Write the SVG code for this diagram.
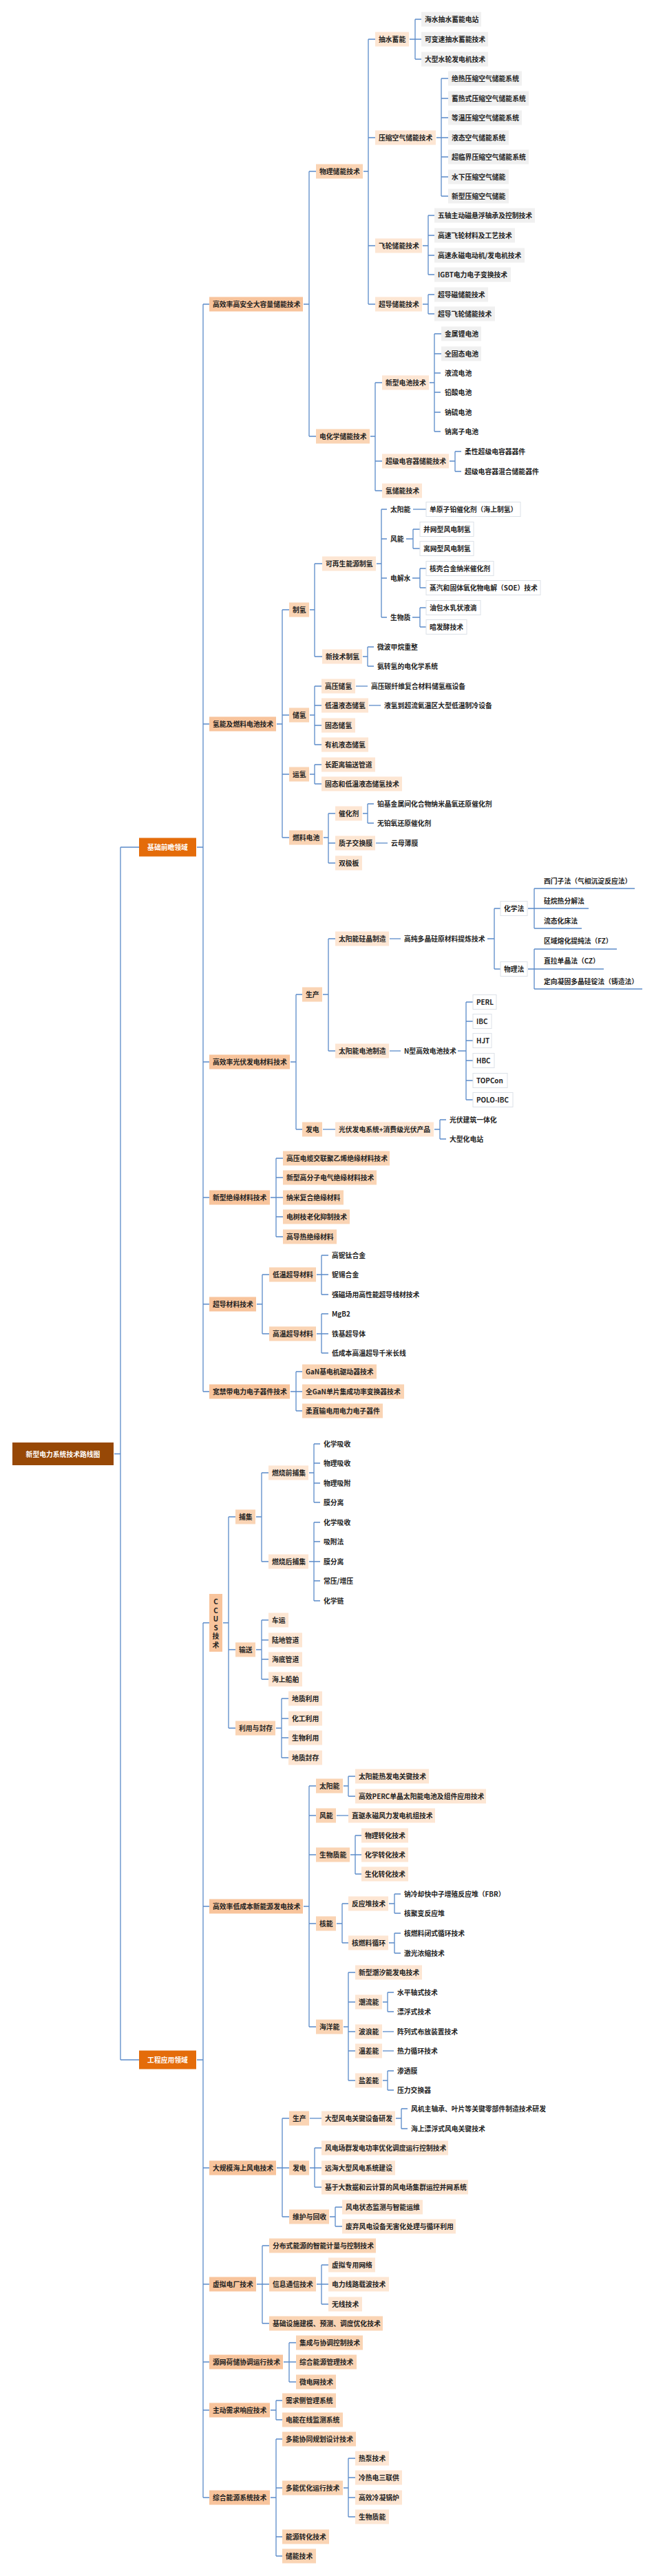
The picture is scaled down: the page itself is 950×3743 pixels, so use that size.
<svg xmlns="http://www.w3.org/2000/svg" width="950" height="3743" viewBox="0 0 950 3743">
<style>
.c path{fill:none;stroke:#5B8BC9;stroke-width:1.3}
text{font-family:"Noto Sans CJK SC","Noto Sans",sans-serif;font-size:9.8px;font-weight:700;fill:#222;dominant-baseline:central}
.r rect{fill:#974806}.r text,.a text{fill:#fff}
.a rect{fill:#E46C0A}
.l2 rect{fill:#F8C49C}
.l3 rect{fill:#FAD4B4}
.l4 rect{fill:#FDE6D3}
.g rect{fill:#F0F0F0}
.b rect{fill:#fff;stroke:#DCE1E8}
.u line{stroke:#5B8BC9;stroke-width:1.5}
</style>
<rect width="950" height="3743" fill="#fff"/>
<g class="c" id="connectors">
<path d="M166 2112.5H175M175 1231V2993M175 1231H202M175 2993H202"/>
<path d="M286 1231H295M295 442V2022M295 442H304M295 1052H304M295 1543H304M295 1740H304M295 1895H304M295 2022H304"/>
<path d="M286 2993H295M295 2358V3629M295 2358H304M295 2770H304M295 3150H304M295 3319H304M295 3432H304M295 3502H304M295 3629H304"/>
<path d="M441 442H449M449 249V634M449 249H459M449 634H459"/>
<path d="M528 249H535M535 57V442M535 57H545M535 200H545M535 357H545M535 442H545"/>
<path d="M595 57H603M603 28V86M603 28H612M603 57H612M603 86H612"/>
<path d="M634 200H641M641 114V285M641 114H651M641 143H651M641 171H651M641 200H651M641 228H651M641 257H651M641 285H651"/>
<path d="M614 357H622M622 313V399M622 313H631M622 342H631M622 371H631M622 399H631"/>
<path d="M614 442H622M622 428V456M622 428H631M622 456H631"/>
<path d="M538 634H545M545 556V713M545 556H555M545 670H555M545 713H555"/>
<path d="M624 556H631M631 485V627M631 485H641M631 514H641M631 542H640M631 570H640M631 599H640M631 627H640"/>
<path d="M653 670H661M661 656V685M661 656H670M661 685H670"/>
<path d="M402 1052H410M410 886V1217M410 886H420M410 1039H420M410 1125H420M410 1217H420"/>
<path d="M450 886H457M457 819V954M457 819H468M457 954H468"/>
<path d="M547 819H554M554 740V897M554 740H562M554 783H562M554 840H562M554 897H562"/>
<path d="M600 740H619"/>
<path d="M590 783H600M600 769V797M600 769H610M600 797H610"/>
<path d="M599 840H610M610 826V854M610 826H619M610 854H619"/>
<path d="M599 897H610M610 883V911M610 883H619M610 911H619"/>
<path d="M527 954H534M534 940V968M534 940H543M534 968H543"/>
<path d="M450 1039H457M457 997V1082M457 997H467M457 1025H467M457 1054H467M457 1082H467"/>
<path d="M517 997H534"/>
<path d="M536 1025H553"/>
<path d="M450 1125H457M457 1111V1139M457 1111H467M457 1139H467"/>
<path d="M470 1217H477M477 1182V1254M477 1182H487M477 1225H487M477 1254H487"/>
<path d="M527 1182H534M534 1168V1196M534 1168H543M534 1196H543"/>
<path d="M546 1225H563"/>
<path d="M422 1543H430M430 1445V1641M430 1445H439M430 1641H439"/>
<path d="M469 1445H477M477 1364V1527M477 1364H487M477 1527H487"/>
<path d="M566 1364H582"/>
<path d="M708 1364H718M718 1320V1408M718 1320H727M718 1408H727"/>
<path d="M767 1320H776M776 1291V1349"/>
<path d="M767 1408H776M776 1379V1437"/>
<path d="M566 1527H582"/>
<path d="M665 1527H677M677 1456V1598M677 1456H687M677 1484H687M677 1512H687M677 1541H687M677 1570H687M677 1598H687"/>
<path d="M469 1641H487"/>
<path d="M631 1641H639M639 1627V1655M639 1627H648M639 1655H648"/>
<path d="M393 1740H401M401 1683V1797M401 1683H411M401 1711H411M401 1740H411M401 1768H411M401 1797H411"/>
<path d="M373 1895H381M381 1852V1938M381 1852H391M381 1938H391"/>
<path d="M460 1852H467M467 1824V1881M467 1824H477M467 1852H477M467 1881H477"/>
<path d="M460 1938H467M467 1909V1966M467 1909H477M467 1938H477M467 1966H477"/>
<path d="M422 2022H430M430 1993V2050M430 1993H439M430 2022H439M430 2050H439"/>
<path d="M324 2358H332M332 2204V2511M332 2204H342M332 2397H342M332 2511H342"/>
<path d="M372 2204H380M380 2140V2269M380 2140H390M380 2269H390"/>
<path d="M449 2140H456M456 2098V2183M456 2098H465M456 2126H465M456 2155H465M456 2183H465"/>
<path d="M449 2269H456M456 2212V2326M456 2212H465M456 2240H465M456 2269H465M456 2297H465M456 2326H465"/>
<path d="M372 2397H380M380 2354V2440M380 2354H390M380 2383H390M380 2411H390M380 2440H390"/>
<path d="M401 2511H409M409 2468V2554M409 2468H419M409 2497H419M409 2525H419M409 2554H419"/>
<path d="M441 2770H449M449 2595V2945M449 2595H459M449 2638H459M449 2695H459M449 2795H459M449 2945H459"/>
<path d="M499 2595H506M506 2581V2610M506 2581H516M506 2610H516"/>
<path d="M489 2638H506"/>
<path d="M509 2695H516M516 2667V2723M516 2667H525M516 2695H525M516 2723H525"/>
<path d="M489 2795H497M497 2766V2823M497 2766H506M497 2823H506"/>
<path d="M565 2766H573M573 2752V2780M573 2752H582M573 2780H582"/>
<path d="M565 2823H573M573 2809V2838M573 2809H582M573 2838H582"/>
<path d="M499 2945H506M506 2866V3023M506 2866H516M506 2909H516M506 2952H516M506 2980H516M506 3023H516"/>
<path d="M556 2909H563M563 2895V2923M563 2895H572M563 2923H572"/>
<path d="M556 2952H572"/>
<path d="M556 2980H572"/>
<path d="M556 3023H563M563 3009V3037M563 3009H572M563 3037H572"/>
<path d="M402 3150H410M410 3078V3221M410 3078H420M410 3150H420M410 3221H420"/>
<path d="M450 3078H467"/>
<path d="M575 3078H583M583 3064V3093M583 3064H592M583 3093H592"/>
<path d="M450 3150H457M457 3121V3178M457 3121H467M457 3150H467M457 3178H467"/>
<path d="M479 3221H487M487 3207V3235M487 3207H497M487 3235H497"/>
<path d="M373 3319H381M381 3263V3376M381 3263H391M381 3319H391M381 3376H391"/>
<path d="M460 3319H467M467 3291V3348M467 3291H477M467 3319H477M467 3348H477"/>
<path d="M412 3432H420M420 3404V3461M420 3404H430M420 3432H430M420 3461H430"/>
<path d="M393 3502H401M401 3488V3516M401 3488H410M401 3516H410"/>
<path d="M393 3629H401M401 3544V3714M401 3544H410M401 3615H410M401 3686H410M401 3714H410"/>
<path d="M499 3615H506M506 3572V3657M506 3572H516M506 3600H516M506 3629H516M506 3657H516"/>
</g>

<g id="root" class="r"><rect x="18" y="2096" width="147" height="33"/><text x="91.5" y="2112.5" text-anchor="middle">新型电力系统技术路线图</text></g>
<g id="jc" class="a"><rect x="202" y="1217.5" width="83" height="27"/><text x="243.5" y="1231" text-anchor="middle">基础前瞻领域</text></g>
<g id="gc" class="a"><rect x="202" y="2979.5" width="83" height="27"/><text x="243.5" y="2993" text-anchor="middle">工程应用领域</text></g>

<!-- 储能 -->
<g id="n1" class="l2"><rect x="304" y="431.5" width="136" height="21"/><text x="309" y="442">高效率高安全大容量储能技术</text></g>
<g id="n2" class="l3"><rect x="459" y="238.5" width="68" height="21"/><text x="464" y="249">物理储能技术</text></g>
<g id="n3" class="l3"><rect x="459" y="623.5" width="78" height="21"/><text x="464" y="634">电化学储能技术</text></g>
<g id="n4" class="l4"><rect x="545" y="46.5" width="49" height="21"/><text x="550" y="57">抽水蓄能</text></g>
<g id="n5" class="l4"><rect x="545" y="189.5" width="88" height="21"/><text x="550" y="200">压缩空气储能技术</text></g>
<g id="n6" class="l4"><rect x="545" y="346.5" width="68" height="21"/><text x="550" y="357">飞轮储能技术</text></g>
<g id="n7" class="l4"><rect x="545" y="431.5" width="68" height="21"/><text x="550" y="442">超导储能技术</text></g>
<g id="n8" class="g"><rect x="612" y="17.5" width="87" height="21"/><text x="617" y="28">海水抽水蓄能电站</text></g>
<g id="n9" class="g"><rect x="612" y="46.5" width="97" height="21"/><text x="617" y="57">可变速抽水蓄能技术</text></g>
<g id="n10" class="g"><rect x="612" y="75.5" width="97" height="21"/><text x="617" y="86">大型水轮发电机技术</text></g>
<g id="n11" class="g"><rect x="651" y="103.5" width="107" height="21"/><text x="656" y="114">绝热压缩空气储能系统</text></g>
<g id="n12" class="g"><rect x="651" y="132.5" width="117" height="21"/><text x="656" y="143">蓄热式压缩空气储能系统</text></g>
<g id="n13" class="g"><rect x="651" y="160.5" width="107" height="21"/><text x="656" y="171">等温压缩空气储能系统</text></g>
<g id="n14" class="g"><rect x="651" y="189.5" width="88" height="21"/><text x="656" y="200">液态空气储能系统</text></g>
<g id="n15" class="g"><rect x="651" y="217.5" width="117" height="21"/><text x="656" y="228">超临界压缩空气储能系统</text></g>
<g id="n16" class="g"><rect x="651" y="246.5" width="88" height="21"/><text x="656" y="257">水下压缩空气储能</text></g>
<g id="n17" class="g"><rect x="651" y="274.5" width="88" height="21"/><text x="656" y="285">新型压缩空气储能</text></g>
<g id="n18" class="g"><rect x="631" y="302.5" width="146" height="21"/><text x="636" y="313">五轴主动磁悬浮轴承及控制技术</text></g>
<g id="n19" class="g"><rect x="631" y="331.5" width="117" height="21"/><text x="636" y="342">高速飞轮材料及工艺技术</text></g>
<g id="n20" class="g"><rect x="631" y="360.5" width="131" height="21"/><text x="636" y="371">高速永磁电动机/发电机技术</text></g>
<g id="n21" class="g"><rect x="631" y="388.5" width="111" height="21"/><text x="636" y="399">IGBT电力电子变换技术</text></g>
<g id="n22" class="g"><rect x="631" y="417.5" width="78" height="21"/><text x="636" y="428">超导磁储能技术</text></g>
<g id="n23" class="g"><rect x="631" y="445.5" width="88" height="21"/><text x="636" y="456">超导飞轮储能技术</text></g>
<g id="n24" class="l4"><rect x="555" y="545.5" width="68" height="21"/><text x="560" y="556">新型电池技术</text></g>
<g id="n25" class="l4"><rect x="555" y="659.5" width="97" height="21"/><text x="560" y="670">超级电容器储能技术</text></g>
<g id="n26" class="l4"><rect x="555" y="702.5" width="58" height="21"/><text x="560" y="713">氢储能技术</text></g>
<g id="n27" class="g"><rect x="641" y="474.5" width="58" height="21"/><text x="646" y="485">金属锂电池</text></g>
<g id="n28" class="g"><rect x="641" y="503.5" width="58" height="21"/><text x="646" y="514">全固态电池</text></g>
<g id="n29"><text x="646" y="542">液流电池</text></g>
<g id="n30"><text x="646" y="570">铅酸电池</text></g>
<g id="n31"><text x="646" y="599">钠硫电池</text></g>
<g id="n32"><text x="646" y="627">钠离子电池</text></g>
<g id="n33"><text x="675" y="656">柔性超级电容器器件</text></g>
<g id="n34"><text x="675" y="685">超级电容器混合储能器件</text></g>

<!-- 氢能 -->
<g id="h1" class="l2"><rect x="304" y="1041.5" width="97" height="21"/><text x="309" y="1052">氢能及燃料电池技术</text></g>
<g id="h2" class="l3"><rect x="420" y="875.5" width="29" height="21"/><text x="425" y="886">制氢</text></g>
<g id="h3" class="l3"><rect x="420" y="1028.5" width="29" height="21"/><text x="425" y="1039">储氢</text></g>
<g id="h4" class="l3"><rect x="420" y="1114.5" width="29" height="21"/><text x="425" y="1125">运氢</text></g>
<g id="h5" class="l3"><rect x="420" y="1206.5" width="49" height="21"/><text x="425" y="1217">燃料电池</text></g>
<g id="h6" class="l4"><rect x="468" y="808.5" width="78" height="21"/><text x="473" y="819">可再生能源制氢</text></g>
<g id="h7" class="l4"><rect x="468" y="943.5" width="58" height="21"/><text x="473" y="954">新技术制氢</text></g>
<g id="h8"><text x="567" y="740">太阳能</text></g>
<g id="h9"><text x="567" y="783">风能</text></g>
<g id="h10"><text x="567" y="840">电解水</text></g>
<g id="h11"><text x="567" y="897">生物质</text></g>
<g id="h12" class="b"><rect x="619" y="729.5" width="137" height="21"/><text x="624" y="740">单原子铂催化剂（海上制氢）</text></g>
<g id="h13" class="b"><rect x="610" y="758.5" width="78" height="21"/><text x="615" y="769">并网型风电制氢</text></g>
<g id="h14" class="b"><rect x="610" y="786.5" width="78" height="21"/><text x="615" y="797">离网型风电制氢</text></g>
<g id="h15" class="b"><rect x="619" y="815.5" width="98" height="21"/><text x="624" y="826">核壳合金纳米催化剂</text></g>
<g id="h16" class="b"><rect x="619" y="843.5" width="166" height="21"/><text x="624" y="854">蒸汽和固体氧化物电解（SOE）技术</text></g>
<g id="h17" class="b"><rect x="619" y="872.5" width="79" height="21"/><text x="624" y="883">油包水乳状液滴</text></g>
<g id="h18" class="b"><rect x="619" y="900.5" width="59" height="21"/><text x="624" y="911">暗发酵技术</text></g>
<g id="h19"><text x="548" y="940">微波甲烷重整</text></g>
<g id="h20"><text x="548" y="968">氨转氢的电化学系统</text></g>
<g id="h21" class="l4"><rect x="467" y="986.5" width="49" height="21"/><text x="472" y="997">高压储氢</text></g>
<g id="h22" class="l4"><rect x="467" y="1014.5" width="68" height="21"/><text x="472" y="1025">低温液态储氢</text></g>
<g id="h23" class="l4"><rect x="467" y="1043.5" width="49" height="21"/><text x="472" y="1054">固态储氢</text></g>
<g id="h24" class="l4"><rect x="467" y="1071.5" width="68" height="21"/><text x="472" y="1082">有机液态储氢</text></g>
<g id="h25"><text x="539" y="997">高压碳纤维复合材料储氢瓶设备</text></g>
<g id="h26"><text x="558" y="1025">液氢到超流氦温区大型低温制冷设备</text></g>
<g id="h27" class="l4"><rect x="467" y="1100.5" width="78" height="21"/><text x="472" y="1111">长距离输送管道</text></g>
<g id="h28" class="l4"><rect x="467" y="1128.5" width="117" height="21"/><text x="472" y="1139">固态和低温液态储氢技术</text></g>
<g id="h29" class="l4"><rect x="487" y="1171.5" width="39" height="21"/><text x="492" y="1182">催化剂</text></g>
<g id="h30" class="l4"><rect x="487" y="1214.5" width="58" height="21"/><text x="492" y="1225">质子交换膜</text></g>
<g id="h31" class="l4"><rect x="487" y="1243.5" width="39" height="21"/><text x="492" y="1254">双极板</text></g>
<g id="h32"><text x="548" y="1168">铂基金属间化合物纳米晶氧还原催化剂</text></g>
<g id="h33"><text x="548" y="1196">无铂氧还原催化剂</text></g>
<g id="h34"><text x="568" y="1225">云母薄膜</text></g>

<!-- 光伏 -->
<g id="p1" class="l2"><rect x="304" y="1532.5" width="117" height="21"/><text x="309" y="1543">高效率光伏发电材料技术</text></g>
<g id="p2" class="l3"><rect x="439" y="1434.5" width="29" height="21"/><text x="444" y="1445">生产</text></g>
<g id="p3" class="l3"><rect x="439" y="1630.5" width="29" height="21"/><text x="444" y="1641">发电</text></g>
<g id="p4" class="l4"><rect x="487" y="1353.5" width="78" height="21"/><text x="492" y="1364">太阳能硅晶制造</text></g>
<g id="p5" class="l4"><rect x="487" y="1516.5" width="78" height="21"/><text x="492" y="1527">太阳能电池制造</text></g>
<g id="p6"><text x="587" y="1364">高纯多晶硅原材料提炼技术</text></g>
<g id="p7" class="b"><rect x="727" y="1309.5" width="39" height="21"/><text x="732" y="1320">化学法</text></g>
<g id="p8" class="b"><rect x="727" y="1397.5" width="39" height="21"/><text x="732" y="1408">物理法</text></g>
<g id="p9" class="u"><line x1="776" y1="1291" x2="922" y2="1291"/><text x="790" y="1280">西门子法（气相沉淀反应法）</text></g>
<g id="p10" class="u"><line x1="776" y1="1320" x2="855" y2="1320"/><text x="790" y="1309">硅烷热分解法</text></g>
<g id="p11" class="u"><line x1="776" y1="1349" x2="845" y2="1349"/><text x="790" y="1338">流态化床法</text></g>
<g id="p12" class="u"><line x1="776" y1="1379" x2="896" y2="1379"/><text x="790" y="1367">区域熔化提纯法（FZ）</text></g>
<g id="p13" class="u"><line x1="776" y1="1408" x2="877" y2="1408"/><text x="790" y="1396">直拉单晶法（CZ）</text></g>
<g id="p14" class="u"><line x1="776" y1="1437" x2="933" y2="1437"/><text x="790" y="1426">定向凝固多晶硅锭法（铸造法）</text></g>
<g id="p15"><text x="587" y="1527">N型高效电池技术</text></g>
<g id="p16" class="b"><rect x="687" y="1445.5" width="34" height="21"/><text x="692" y="1456">PERL</text></g>
<g id="p17" class="b"><rect x="687" y="1473.5" width="27" height="21"/><text x="692" y="1484">IBC</text></g>
<g id="p18" class="b"><rect x="687" y="1501.5" width="27" height="21"/><text x="692" y="1512">HJT</text></g>
<g id="p19" class="b"><rect x="687" y="1530.5" width="31" height="21"/><text x="692" y="1541">HBC</text></g>
<g id="p20" class="b"><rect x="687" y="1559.5" width="50" height="21"/><text x="692" y="1570">TOPCon</text></g>
<g id="p21" class="b"><rect x="687" y="1587.5" width="58" height="21"/><text x="692" y="1598">POLO-IBC</text></g>
<g id="p22" class="l4"><rect x="487" y="1630.5" width="143" height="21"/><text x="492" y="1641">光伏发电系统+消费级光伏产品</text></g>
<g id="p23"><text x="653" y="1627">光伏建筑一体化</text></g>
<g id="p24"><text x="653" y="1655">大型化电站</text></g>

<!-- 绝缘 -->
<g id="i1" class="l2"><rect x="304" y="1729.5" width="88" height="21"/><text x="309" y="1740">新型绝缘材料技术</text></g>
<g id="i2" class="l3"><rect x="411" y="1672.5" width="155" height="21"/><text x="416" y="1683">高压电缆交联聚乙烯绝缘材料技术</text></g>
<g id="i3" class="l3"><rect x="411" y="1700.5" width="136" height="21"/><text x="416" y="1711">新型高分子电气绝缘材料技术</text></g>
<g id="i4" class="l3"><rect x="411" y="1729.5" width="88" height="21"/><text x="416" y="1740">纳米复合绝缘材料</text></g>
<g id="i5" class="l3"><rect x="411" y="1757.5" width="97" height="21"/><text x="416" y="1768">电树枝老化抑制技术</text></g>
<g id="i6" class="l3"><rect x="411" y="1786.5" width="78" height="21"/><text x="416" y="1797">高导热绝缘材料</text></g>

<!-- 超导 -->
<g id="s1" class="l2"><rect x="304" y="1884.5" width="68" height="21"/><text x="309" y="1895">超导材料技术</text></g>
<g id="s2" class="l3"><rect x="391" y="1841.5" width="68" height="21"/><text x="396" y="1852">低温超导材料</text></g>
<g id="s3" class="l3"><rect x="391" y="1927.5" width="68" height="21"/><text x="396" y="1938">高温超导材料</text></g>
<g id="s4"><text x="482" y="1824">高铌钛合金</text></g>
<g id="s5"><text x="482" y="1852">铌锡合金</text></g>
<g id="s6"><text x="482" y="1881">强磁场用高性能超导线材技术</text></g>
<g id="s7"><text x="482" y="1909">MgB2</text></g>
<g id="s8"><text x="482" y="1938">铁基超导体</text></g>
<g id="s9"><text x="482" y="1966">低成本高温超导千米长线</text></g>

<!-- 宽禁带 -->
<g id="w1" class="l2"><rect x="304" y="2011.5" width="117" height="21"/><text x="309" y="2022">宽禁带电力电子器件技术</text></g>
<g id="w2" class="l3"><rect x="439" y="1982.5" width="108" height="21"/><text x="444" y="1993">GaN基电机驱动器技术</text></g>
<g id="w3" class="l3"><rect x="439" y="2011.5" width="148" height="21"/><text x="444" y="2022">全GaN单片集成功率变换器技术</text></g>
<g id="w4" class="l3"><rect x="439" y="2039.5" width="117" height="21"/><text x="444" y="2050">柔直输电用电力电子器件</text></g>

<!-- CCUS -->
<g id="c1" class="l2"><rect x="304" y="2316" width="19" height="84"/><text x="313.5" text-anchor="middle"><tspan x="313.5" y="2327">C</tspan><tspan x="313.5" y="2339.5">C</tspan><tspan x="313.5" y="2352">U</tspan><tspan x="313.5" y="2364.5">S</tspan><tspan x="313.5" y="2377">技</tspan><tspan x="313.5" y="2389.5">术</tspan></text></g>
<g id="c2" class="l3"><rect x="342" y="2193.5" width="29" height="21"/><text x="347" y="2204">捕集</text></g>
<g id="c3" class="l3"><rect x="342" y="2386.5" width="29" height="21"/><text x="347" y="2397">输送</text></g>
<g id="c4" class="l3"><rect x="342" y="2500.5" width="58" height="21"/><text x="347" y="2511">利用与封存</text></g>
<g id="c5" class="l4"><rect x="390" y="2129.5" width="58" height="21"/><text x="395" y="2140">燃烧前捕集</text></g>
<g id="c6" class="l4"><rect x="390" y="2258.5" width="58" height="21"/><text x="395" y="2269">燃烧后捕集</text></g>
<g id="c7"><text x="470" y="2098">化学吸收</text></g>
<g id="c8"><text x="470" y="2126">物理吸收</text></g>
<g id="c9"><text x="470" y="2155">物理吸附</text></g>
<g id="c10"><text x="470" y="2183">膜分离</text></g>
<g id="c11"><text x="470" y="2212">化学吸收</text></g>
<g id="c12"><text x="470" y="2240">吸附法</text></g>
<g id="c13"><text x="470" y="2269">膜分离</text></g>
<g id="c14"><text x="470" y="2297">常压/增压</text></g>
<g id="c15"><text x="470" y="2326">化学链</text></g>
<g id="c16" class="l4"><rect x="390" y="2343.5" width="29" height="21"/><text x="395" y="2354">车运</text></g>
<g id="c17" class="l4"><rect x="390" y="2372.5" width="49" height="21"/><text x="395" y="2383">陆地管道</text></g>
<g id="c18" class="l4"><rect x="390" y="2400.5" width="49" height="21"/><text x="395" y="2411">海底管道</text></g>
<g id="c19" class="l4"><rect x="390" y="2429.5" width="49" height="21"/><text x="395" y="2440">海上船舶</text></g>
<g id="c20" class="l4"><rect x="419" y="2457.5" width="49" height="21"/><text x="424" y="2468">地质利用</text></g>
<g id="c21" class="l4"><rect x="419" y="2486.5" width="49" height="21"/><text x="424" y="2497">化工利用</text></g>
<g id="c22" class="l4"><rect x="419" y="2514.5" width="49" height="21"/><text x="424" y="2525">生物利用</text></g>
<g id="c23" class="l4"><rect x="419" y="2543.5" width="49" height="21"/><text x="424" y="2554">地质封存</text></g>

<!-- 新能源 -->
<g id="e1" class="l2"><rect x="304" y="2759.5" width="136" height="21"/><text x="309" y="2770">高效率低成本新能源发电技术</text></g>
<g id="e2" class="l3"><rect x="459" y="2584.5" width="39" height="21"/><text x="464" y="2595">太阳能</text></g>
<g id="e3" class="l3"><rect x="459" y="2627.5" width="29" height="21"/><text x="464" y="2638">风能</text></g>
<g id="e4" class="l3"><rect x="459" y="2684.5" width="49" height="21"/><text x="464" y="2695">生物质能</text></g>
<g id="e5" class="l3"><rect x="459" y="2784.5" width="29" height="21"/><text x="464" y="2795">核能</text></g>
<g id="e6" class="l3"><rect x="459" y="2934.5" width="39" height="21"/><text x="464" y="2945">海洋能</text></g>
<g id="e7" class="l4"><rect x="516" y="2570.5" width="107" height="21"/><text x="521" y="2581">太阳能热发电关键技术</text></g>
<g id="e8" class="l4"><rect x="516" y="2599.5" width="190" height="21"/><text x="521" y="2610">高效PERC单晶太阳能电池及组件应用技术</text></g>
<g id="e9" class="l4"><rect x="506" y="2627.5" width="126" height="21"/><text x="511" y="2638">直驱永磁风力发电机组技术</text></g>
<g id="e10" class="l4"><rect x="525" y="2656.5" width="68" height="21"/><text x="530" y="2667">物理转化技术</text></g>
<g id="e11" class="l4"><rect x="525" y="2684.5" width="68" height="21"/><text x="530" y="2695">化学转化技术</text></g>
<g id="e12" class="l4"><rect x="525" y="2712.5" width="68" height="21"/><text x="530" y="2723">生化转化技术</text></g>
<g id="e13" class="l4"><rect x="506" y="2755.5" width="58" height="21"/><text x="511" y="2766">反应堆技术</text></g>
<g id="e14" class="l4"><rect x="506" y="2812.5" width="58" height="21"/><text x="511" y="2823">核燃料循环</text></g>
<g id="e15"><text x="587" y="2752">钠冷却快中子增殖反应堆（FBR）</text></g>
<g id="e16"><text x="587" y="2780">核聚变反应堆</text></g>
<g id="e17"><text x="587" y="2809">核燃料闭式循环技术</text></g>
<g id="e18"><text x="587" y="2838">激光浓缩技术</text></g>
<g id="e19" class="l4"><rect x="516" y="2855.5" width="97" height="21"/><text x="521" y="2866">新型潮汐能发电技术</text></g>
<g id="e20" class="l4"><rect x="516" y="2898.5" width="39" height="21"/><text x="521" y="2909">潮流能</text></g>
<g id="e21" class="l4"><rect x="516" y="2941.5" width="39" height="21"/><text x="521" y="2952">波浪能</text></g>
<g id="e22" class="l4"><rect x="516" y="2969.5" width="39" height="21"/><text x="521" y="2980">温差能</text></g>
<g id="e23" class="l4"><rect x="516" y="3012.5" width="39" height="21"/><text x="521" y="3023">盐差能</text></g>
<g id="e24"><text x="577" y="2895">水平轴式技术</text></g>
<g id="e25"><text x="577" y="2923">漂浮式技术</text></g>
<g id="e26"><text x="577" y="2952">阵列式布放装置技术</text></g>
<g id="e27"><text x="577" y="2980">热力循环技术</text></g>
<g id="e28"><text x="577" y="3009">渗透膜</text></g>
<g id="e29"><text x="577" y="3037">压力交换器</text></g>

<!-- 海上风电 -->
<g id="f1" class="l2"><rect x="304" y="3139.5" width="97" height="21"/><text x="309" y="3150">大规模海上风电技术</text></g>
<g id="f2" class="l3"><rect x="420" y="3067.5" width="29" height="21"/><text x="425" y="3078">生产</text></g>
<g id="f3" class="l3"><rect x="420" y="3139.5" width="29" height="21"/><text x="425" y="3150">发电</text></g>
<g id="f4" class="l3"><rect x="420" y="3210.5" width="58" height="21"/><text x="425" y="3221">维护与回收</text></g>
<g id="f5" class="l4"><rect x="467" y="3067.5" width="107" height="21"/><text x="472" y="3078">大型风电关键设备研发</text></g>
<g id="f6"><text x="597" y="3064">风机主轴承、叶片等关键零部件制造技术研发</text></g>
<g id="f7"><text x="597" y="3093">海上漂浮式风电关键技术</text></g>
<g id="f8" class="l4"><rect x="467" y="3110.5" width="184" height="21"/><text x="472" y="3121">风电场群发电功率优化调度运行控制技术</text></g>
<g id="f9" class="l4"><rect x="467" y="3139.5" width="107" height="21"/><text x="472" y="3150">远海大型风电系统建设</text></g>
<g id="f10" class="l4"><rect x="467" y="3167.5" width="213" height="21"/><text x="472" y="3178">基于大数据和云计算的风电场集群运控并网系统</text></g>
<g id="f11" class="l4"><rect x="497" y="3196.5" width="117" height="21"/><text x="502" y="3207">风电状态监测与智能运维</text></g>
<g id="f12" class="l4"><rect x="497" y="3224.5" width="165" height="21"/><text x="502" y="3235">废弃风电设备无害化处理与循环利用</text></g>

<!-- 虚拟电厂 -->
<g id="v1" class="l2"><rect x="304" y="3308.5" width="68" height="21"/><text x="309" y="3319">虚拟电厂技术</text></g>
<g id="v2" class="l3"><rect x="391" y="3252.5" width="155" height="21"/><text x="396" y="3263">分布式能源的智能计量与控制技术</text></g>
<g id="v3" class="l3"><rect x="391" y="3308.5" width="68" height="21"/><text x="396" y="3319">信息通信技术</text></g>
<g id="v4" class="l3"><rect x="391" y="3365.5" width="165" height="21"/><text x="396" y="3376">基础设施建模、预测、调度优化技术</text></g>
<g id="v5" class="l4"><rect x="477" y="3280.5" width="68" height="21"/><text x="482" y="3291">虚拟专用网络</text></g>
<g id="v6" class="l4"><rect x="477" y="3308.5" width="88" height="21"/><text x="482" y="3319">电力线路载波技术</text></g>
<g id="v7" class="l4"><rect x="477" y="3337.5" width="49" height="21"/><text x="482" y="3348">无线技术</text></g>

<!-- 源网荷储 / 需求 / 综合 -->
<g id="y1" class="l2"><rect x="304" y="3421.5" width="107" height="21"/><text x="309" y="3432">源网荷储协调运行技术</text></g>
<g id="y2" class="l3"><rect x="430" y="3393.5" width="97" height="21"/><text x="435" y="3404">集成与协调控制技术</text></g>
<g id="y3" class="l3"><rect x="430" y="3421.5" width="88" height="21"/><text x="435" y="3432">综合能源管理技术</text></g>
<g id="y4" class="l3"><rect x="430" y="3450.5" width="58" height="21"/><text x="435" y="3461">微电网技术</text></g>
<g id="d1" class="l2"><rect x="304" y="3491.5" width="88" height="21"/><text x="309" y="3502">主动需求响应技术</text></g>
<g id="d2" class="l3"><rect x="410" y="3477.5" width="78" height="21"/><text x="415" y="3488">需求侧管理系统</text></g>
<g id="d3" class="l3"><rect x="410" y="3505.5" width="88" height="21"/><text x="415" y="3516">电能在线监测系统</text></g>
<g id="z1" class="l2"><rect x="304" y="3618.5" width="88" height="21"/><text x="309" y="3629">综合能源系统技术</text></g>
<g id="z2" class="l3"><rect x="410" y="3533.5" width="107" height="21"/><text x="415" y="3544">多能协同规划设计技术</text></g>
<g id="z3" class="l3"><rect x="410" y="3604.5" width="88" height="21"/><text x="415" y="3615">多能优化运行技术</text></g>
<g id="z4" class="l3"><rect x="410" y="3675.5" width="68" height="21"/><text x="415" y="3686">能源转化技术</text></g>
<g id="z5" class="l3"><rect x="410" y="3703.5" width="49" height="21"/><text x="415" y="3714">储能技术</text></g>
<g id="z6" class="l4"><rect x="516" y="3561.5" width="49" height="21"/><text x="521" y="3572">热泵技术</text></g>
<g id="z7" class="l4"><rect x="516" y="3589.5" width="68" height="21"/><text x="521" y="3600">冷热电三联供</text></g>
<g id="z8" class="l4"><rect x="516" y="3618.5" width="68" height="21"/><text x="521" y="3629">高效冷凝锅炉</text></g>
<g id="z9" class="l4"><rect x="516" y="3646.5" width="49" height="21"/><text x="521" y="3657">生物质能</text></g>
</svg>
